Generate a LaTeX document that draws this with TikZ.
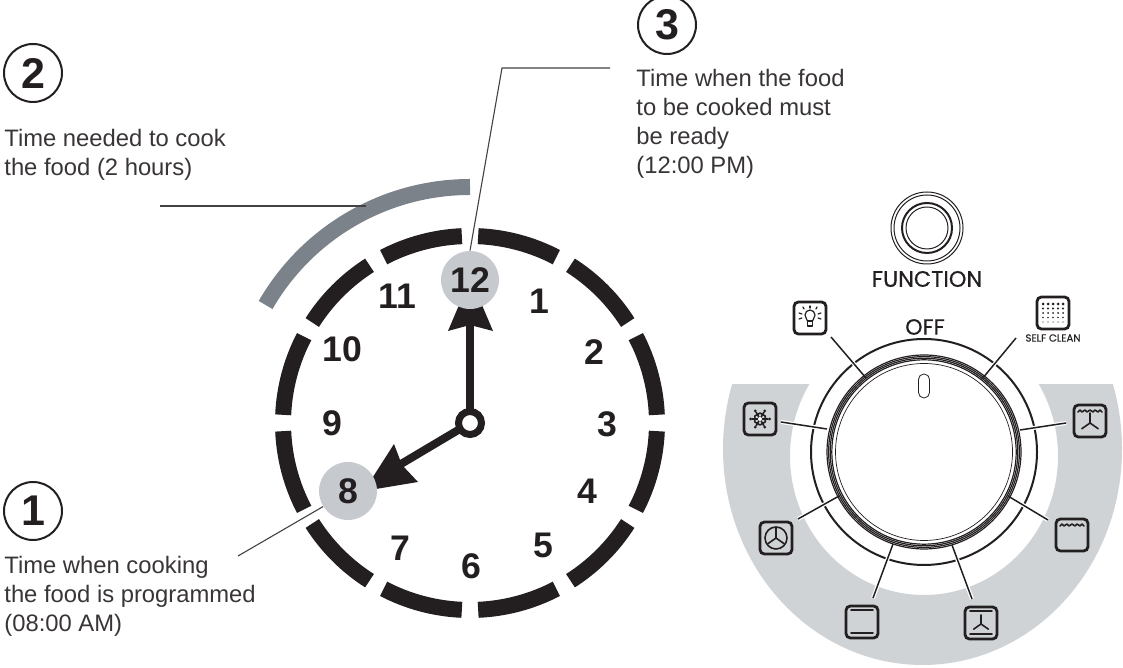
\documentclass[tikz,border=0pt]{standalone}
\usepackage{fontspec}
\setmainfont{Liberation Sans}
\newfontfamily\dialfont[FakeBold=0.5]{Poppins}
\usepackage{tikz}
\usetikzlibrary{calc}
\definecolor{ink}{HTML}{231F20}
\definecolor{hourgrey}{HTML}{C6C9CE}
\definecolor{arcgrey}{HTML}{7C8289}
\definecolor{bandgrey}{HTML}{D0D3D6}
\tikzset{
  clockring/.style = {draw=ink, line width=8pt},
  cookarc/.style   = {draw=arcgrey, line width=8pt},
  handline/.style  = {draw=ink, line width=4pt},
  hourdot/.style   = {circle, fill=hourgrey, minimum size=29pt, inner sep=0pt,
                      text=ink, font=\fontsize{17.8}{20}\selectfont\bfseries},
  hourlab/.style   = {inner sep=0pt, text=ink, font=\fontsize{17.8}{20}\selectfont\bfseries},
  stepdot/.style   = {circle, draw=ink, line width=1pt, minimum size=29pt, inner sep=0pt,
                      text=ink, font=\fontsize{21.5}{24}\selectfont\bfseries},
  captext/.style   = {anchor=north west, inner sep=0pt, align=left, text=ink!90,
                      font=\fontsize{11.9}{14.4}\selectfont},
  callout/.style   = {draw=ink!85, line width=0.55pt},
  leader/.style    = {draw=ink, line width=0.75pt, preaction={draw=white, line width=2pt}},
  dialline/.style  = {draw=ink, line width=0.6pt},
  iconbox/.style   = {draw=ink, line width=1.4pt, rounded corners=2.2pt,
                      minimum size=16pt, inner sep=0pt},
  iconline/.style  = {draw=ink, line width=0.8pt, line cap=round, line join=round},
  dialtext/.style  = {inner sep=0pt, text=ink},
}
\newcommand{\clockseg}[1]{%
  \draw[clockring] ($(clock)+(#1+2.5:187)$) arc[start angle=#1+2.5, end angle=#1+27.5, radius=187];}
\newcommand{\heatwave}[1]{%
  \draw[iconline] (-12,#1-1) -- (-10,#1+1) -- (-8,#1-1) -- (-5,#1+1) -- (-3,#1-1)
    -- (0,#1+1) -- (3,#1-1) -- (5,#1+1) -- (8,#1-1) -- (10,#1+1) -- (12,#1-1);}
\newcommand{\fanblades}[3]{%
  \draw[iconline] (#1,#2) -- ++(90:#3);
  \draw[iconline] (#1,#2) -- ++(215:#3);
  \draw[iconline] (#1,#2) -- ++(325:#3);}
\newcommand{\dotrow}[2]{%
  \fill[ink] (-10,#1) circle (#2);
  \fill[ink] (-5,#1) circle (#2);
  \fill[ink] (0,#1) circle (#2);
  \fill[ink] (5,#1) circle (#2);
  \fill[ink] (10,#1) circle (#2);}
\begin{document}
\begin{tikzpicture}[x=0.5pt, y=0.5pt]
  \useasboundingbox (0,0) rectangle (1123,668);
  % grey band behind the dial
  \begin{scope}
    \clip (700,0) rectangle (1123,283);
    \fill[bandgrey, even odd rule] (922.5,219) ellipse (199.5 and 216)
      (924,212) ellipse (134 and 139);
  \end{scope}
  % clock
  \coordinate (clock) at (470,245);
  \clockseg{0} \clockseg{30} \clockseg{60} \clockseg{90}
  \clockseg{120} \clockseg{150} \clockseg{180} \clockseg{210}
  \clockseg{240} \clockseg{270} \clockseg{300} \clockseg{330}
  \draw[cookarc] ($(clock)+(90:236)$) arc[start angle=90, end angle=150, radius=236];
  \draw[handline] (clock) -- (470,345);
  \fill[ink] (448,337) -- (470,343) -- (493,337) -- (470.5,390) -- cycle;
  \draw[handline] (clock) -- (401,204);
  \fill[ink] (394,224) -- (402,203) -- (418,186) -- (364,177) -- cycle;
  \draw[draw=ink, fill=white, line width=3.5pt] (clock) circle (11.5);
  \node[hourdot] (h12) at (470,388) {12};
  \node[hourdot] (h8) at (348,177) {8};
  \node[hourlab] (h11) at (397,372) {11};
  \node[hourlab] (h1) at (539,367) {1};
  \node[hourlab] (h10) at (342,319) {10};
  \node[hourlab] (h2) at (594,316) {2};
  \node[hourlab] (h9) at (332,245) {9};
  \node[hourlab] (h3) at (607,244) {3};
  \node[hourlab] (h4) at (587,177) {4};
  \node[hourlab] (h7) at (400,120) {7};
  \node[hourlab] (h6) at (471,102) {6};
  \node[hourlab] (h5) at (543,123) {5};
  % callouts
  \node[stepdot] (step1) at (33,157) {1};
  \node[stepdot] (step2) at (33,595) {2};
  \node[stepdot] (step3) at (667,643) {3};
  \node[captext] (cap1) at (4,112) {Time when cooking\\the food is programmed\\(08:00 AM)};
  \node[captext] (cap2) at (4,539) {Time needed to cook\\the food (2 hours)};
  \node[captext] (cap3) at (636,599) {Time when the food\\to be cooked must\\be ready\\(12:00 PM)};
  \coordinate (line1) at (238,112);
  \coordinate (line2a) at (160,462);
  \coordinate (line2b) at (366,462);
  \coordinate (line3a) at (610,600);
  \coordinate (line3b) at (502,600);
  \draw[callout] (line1) -- (h8.212);
  \draw[callout] (line2a) -- (line2b);
  \draw[callout] (line3a) -- (line3b) -- (h12.north);
  % function knob
  \coordinate (knob) at (927,440);
  \draw[dialline, line width=0.5pt] (knob) circle (36);
  \draw[dialline, line width=0.5pt] (knob) circle (33);
  \draw[draw=ink, line width=1pt] (knob) circle (25);
  \draw[dialline, line width=0.5pt] (knob) circle (21);
  \node[dialtext, font=\fontsize{11.2}{12}\dialfont] (functext) at (927,389) {FUNCTION};
  \node[dialtext, font=\fontsize{11}{12}\dialfont] (offtext) at (925,341) {OFF};
  \node[dialtext, font=\fontsize{5.1}{6}\dialfont] (cleantext) at (1053,330) {SELF CLEAN};
  % dial
  \coordinate (dial) at (924,216);
  \draw[draw=ink, line width=1pt] (dial) circle (113);
  \coordinate (lampa) at (831,331);   \coordinate (lampb) at (866,290);
  \coordinate (cleana) at (1016,330); \coordinate (cleanb) at (982,289);
  \coordinate (snowa) at (781,246);   \coordinate (snowb) at (827,239);
  \coordinate (bothta) at (1066,245); \coordinate (bothtb) at (1020,238);
  \coordinate (fana) at (798,149);    \coordinate (fanb) at (839,172);
  \coordinate (topa) at (1048,148);   \coordinate (topb) at (1008,172);
  \coordinate (conva) at (873,70);    \coordinate (convb) at (893,124);
  \coordinate (lowa) at (972,69);     \coordinate (lowb) at (952,123);
  \draw[leader] (lampa) -- (lampb);
  \draw[leader] (cleana) -- (cleanb);
  \draw[leader] (snowa) -- (snowb);
  \draw[leader] (bothta) -- (bothtb);
  \draw[leader] (fana) -- (fanb);
  \draw[leader] (topa) -- (topb);
  \draw[leader] (conva) -- (convb);
  \draw[leader] (lowa) -- (lowb);
  \draw[dialline] (dial) circle (97);
  \draw[dialline] (dial) circle (95.4);
  \draw[dialline] (dial) circle (93.8);
  \draw[dialline] (dial) circle (92.2);
  \draw[draw=ink, line width=0.35pt] (dial) circle (88.5);
  \draw[dialline, line width=0.4pt, rounded corners=2.7] (918.5,270) rectangle (929.5,294);
  % icons
  \node[iconbox] (lamp) at (810,350) {};
  \node[iconbox] (clean) at (1053,355) {};
  \node[iconbox] (snow) at (760,249) {};
  \node[iconbox] (bothtop) at (1090,247) {};
  \node[iconbox] (topheat) at (1072,133) {};
  \node[iconbox] (fan) at (776,130) {};
  \node[iconbox] (plain) at (862,46) {};
  \node[iconbox] (lowfan) at (981,45) {};
  \begin{scope}[shift={(lamp)}]
    \draw[iconline, line width=0.6pt] (-2.5,-3) .. controls (-2.5,-1) and (-5,0) .. (-5,3) arc[start angle=180, end angle=0, radius=5]
      .. controls (5,0) and (2.5,-1) .. (2.5,-3);
    \draw[iconline, line width=0.6pt] (-2.5,-3) rectangle (2.5,-8);
    \draw[iconline, line width=0.6pt] (0,12) -- (0,10);
    \draw[iconline, line width=0.6pt] (-7,11) -- (-6,9);
    \draw[iconline, line width=0.6pt] (7,11) -- (6,9);
    \draw[iconline, line width=0.6pt] (-11,5) -- (-8,4);
    \draw[iconline, line width=0.6pt] (11,5) -- (8,4);
    \draw[iconline, line width=0.6pt] (-11,-1) -- (-8,0);
    \draw[iconline, line width=0.6pt] (11,-1) -- (8,0);
  \end{scope}
  \begin{scope}[shift={(clean)}]
    \dotrow{9}{1.5}
    \dotrow{4.5}{1.2}
    \dotrow{0}{1}
    \dotrow{-4.5}{0.8}
    \dotrow{-9}{0.6}
  \end{scope}
  \begin{scope}[shift={(snow)}]
    \draw[iconline] (-8,0) -- (8,0);
    \draw[iconline] (-4,6.9) -- (4,-6.9);
    \draw[iconline] (4,6.9) -- (-4,-6.9);
    \draw[iconline] (30:6) -- (90:6) -- (150:6) -- (210:6) -- (270:6) -- (330:6) -- cycle;
    \fill[ink] (0:9.5) circle (1.5);
    \fill[ink] (60:9.5) circle (1.5);
    \fill[ink] (120:9.5) circle (1.5);
    \fill[ink] (180:9.5) circle (1.5);
    \fill[ink] (240:9.5) circle (1.5);
    \fill[ink] (300:9.5) circle (1.5);
    \fill[white] (0,0) circle (2);
  \end{scope}
  \begin{scope}[shift={(bothtop)}]
    \heatwave{10}
    \fanblades{0}{-2}{10}
  \end{scope}
  \begin{scope}[shift={(topheat)}]
    \heatwave{10}
  \end{scope}
  \begin{scope}[shift={(fan)}]
    \draw[iconline] (0,0) circle (11);
    \fanblades{0}{0}{10}
  \end{scope}
  \begin{scope}[shift={(plain)}]
    \draw[iconline] (-11,12) -- (11,12);
    \draw[iconline] (-11,-11) -- (11,-11);
  \end{scope}
  \begin{scope}[shift={(lowfan)}]
    \draw[iconline] (-11,12) -- (11,12);
    \fanblades{0}{-1}{9}
    \draw[iconline, line width=0.9pt] (-11,-11) -- (11,-11);
  \end{scope}
\end{tikzpicture}
\end{document}
